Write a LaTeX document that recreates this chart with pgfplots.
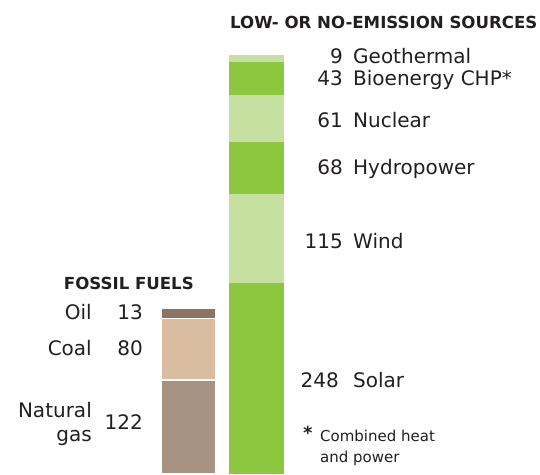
\documentclass[border=0pt]{standalone}
\usepackage{pgfplots}
\pgfplotsset{compat=1.18}
\usepackage{fontspec}
\setmainfont{DejaVu Sans}
\definecolor{gas}{HTML}{A89282}
\definecolor{coal}{HTML}{DABCA0}
\definecolor{oil}{HTML}{8B7562}
\definecolor{dgreen}{HTML}{8DC63F}
\definecolor{lgreen}{HTML}{C5E0A0}
\definecolor{txt}{HTML}{231F20}
\tikzset{
  lab/.style={font=\fontsize{20bp}{24bp}\selectfont, text=txt, inner sep=0pt},
  ttl/.style={font=\fontsize{16.6bp}{19bp}\selectfont\bfseries, text=txt, inner sep=0pt},
  fn/.style={font=\fontsize{15bp}{18bp}\selectfont, text=txt, inner sep=0pt}}
\begin{document}
\begin{tikzpicture}
\begin{axis}[x=1bp, y=0.77bp, xmin=0, xmax=540, ymin=0, ymax=615.58,
  hide axis, clip=false, ybar stacked, bar width=55bp]
% fossil fuels (left bar)
\addplot[fill=gas, draw=white, line width=1.2bp] coordinates {(188.5,122) (256.5,0)};
\addplot[fill=coal, draw=white, line width=1.2bp] coordinates {(188.5,80) (256.5,0)};
\addplot[fill=oil, draw=white, line width=1.2bp] coordinates {(188.5,13) (256.5,0)};
% low- or no-emission sources (right bar)
\addplot[fill=dgreen, draw=none] coordinates {(188.5,0) (256.5,248)};
\addplot[fill=lgreen, draw=none] coordinates {(188.5,0) (256.5,115)};
\addplot[fill=dgreen, draw=none] coordinates {(188.5,0) (256.5,68)};
\addplot[fill=lgreen, draw=none] coordinates {(188.5,0) (256.5,61)};
\addplot[fill=dgreen, draw=none] coordinates {(188.5,0) (256.5,43)};
\addplot[fill=lgreen, draw=none] coordinates {(188.5,0) (256.5,9)};
% titles
\node[ttl, anchor=mid west] at (axis cs:230,582) {LOW- OR NO-EMISSION SOURCES};
\node[ttl, anchor=mid east] at (axis cs:194,243) {FOSSIL FUELS};
% right labels
\node[lab, anchor=mid east] at (axis cs:343,537) {9};
\node[lab, anchor=mid west] at (axis cs:353,537) {Geothermal};
\node[lab, anchor=mid east] at (axis cs:343,508) {43};
\node[lab, anchor=mid west] at (axis cs:353,508) {Bioenergy CHP*};
\node[lab, anchor=mid east] at (axis cs:343,454) {61};
\node[lab, anchor=mid west] at (axis cs:353,454) {Nuclear};
\node[lab, anchor=mid east] at (axis cs:343,393) {68};
\node[lab, anchor=mid west] at (axis cs:353,393) {Hydropower};
\node[lab, anchor=mid east] at (axis cs:343,297) {115};
\node[lab, anchor=mid west] at (axis cs:353,297) {Wind};
\node[lab, anchor=mid east] at (axis cs:339,116) {248};
\node[lab, anchor=mid west] at (axis cs:353,116) {Solar};
% left labels
\node[lab, anchor=mid east] at (axis cs:92,204) {Oil};
\node[lab, anchor=mid east] at (axis cs:143,204) {13};
\node[lab, anchor=mid east] at (axis cs:92,158) {Coal};
\node[lab, anchor=mid east] at (axis cs:143,158) {80};
\node[lab, anchor=mid east] at (axis cs:92,77) {Natural};
\node[lab, anchor=mid east] at (axis cs:92,46) {gas};
\node[lab, anchor=mid east] at (axis cs:143,61.5) {122};
% footnote
\node[fn, anchor=mid west, font=\fontsize{18bp}{18bp}\selectfont\bfseries] at (axis cs:303,48) {*};
\node[fn, anchor=mid west] at (axis cs:320,45.4) {Combined heat};
\node[fn, anchor=mid west] at (axis cs:320,18.1) {and power};
\end{axis}
\pgfresetboundingbox
\path[use as bounding box] (current axis.south west) rectangle (current axis.north east);
\end{tikzpicture}
\end{document}
